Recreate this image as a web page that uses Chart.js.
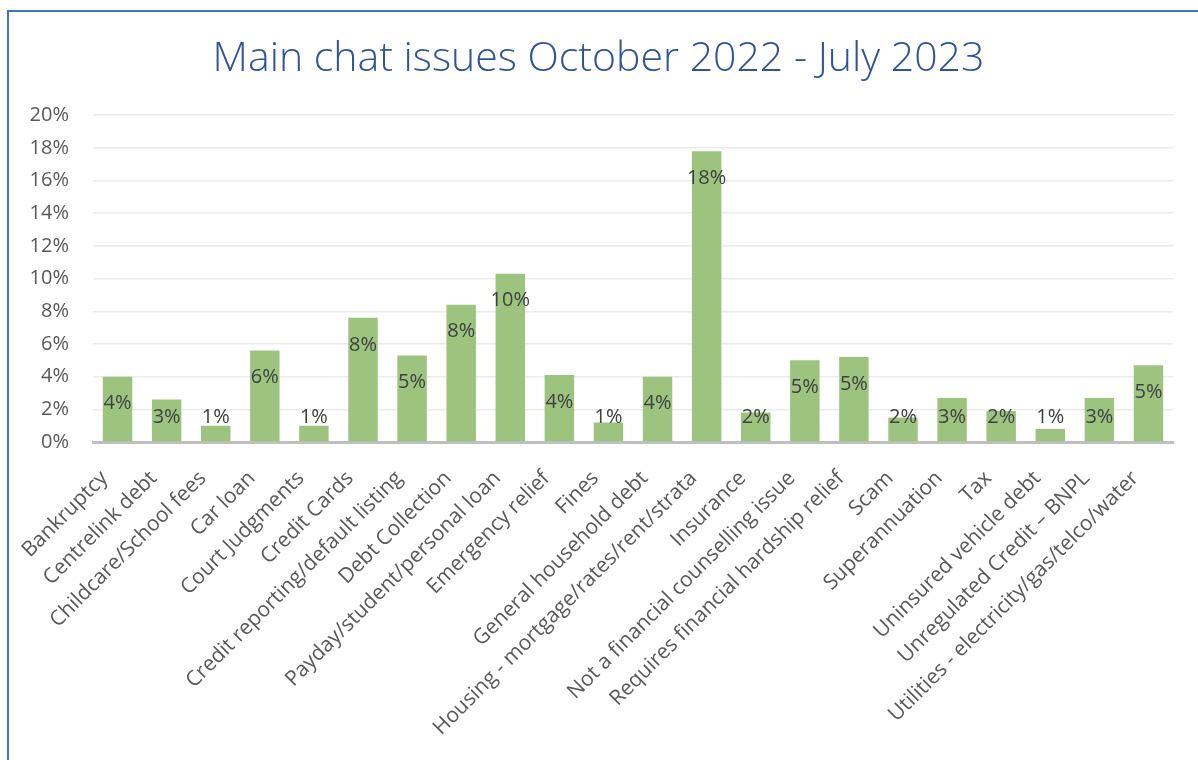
<!DOCTYPE html>
<html>
<head>
<meta charset="utf-8">
<script src="https://cdn.jsdelivr.net/npm/chart.js@4.4.0/dist/chart.umd.min.js"></script>
<style>
  html, body { margin: 0; padding: 0; background: #fff; overflow: hidden; }
  #frame {
    position: absolute; left: 7px; top: 10px; width: 1220px; height: 780px;
    border-left: 2px solid #4472C4; border-top: 2px solid #4472C4;
  }
  #chartCanvas { position: absolute; left: 0; top: 0; }
</style>
</head>
<body>
<div id="frame"></div>
<canvas id="chartCanvas" width="1198" height="760"></canvas>
<script>
const TITLE = "Main chat issues October 2022 - July 2023";

const categories = [
  "Bankruptcy",
  "Centrelink debt",
  "Childcare/School fees",
  "Car loan",
  "Court Judgments",
  "Credit Cards",
  "Credit reporting/default listing",
  "Debt Collection",
  "Payday/student/personal loan",
  "Emergency relief",
  "Fines",
  "General household debt",
  "Housing - mortgage/rates/rent/strata",
  "Insurance",
  "Not a financial counselling issue",
  "Requires financial hardship relief",
  "Scam",
  "Superannuation",
  "Tax",
  "Uninsured vehicle debt",
  "Unregulated Credit \u2013 BNPL",
  "Utilities - electricity/gas/telco/water",
];

// share of chats, in percent
const shares = [
  4.0, 2.6, 1.0, 5.6, 1.0, 7.6, 5.3, 8.4, 10.3, 4.1, 1.2,
  4.0, 17.8, 1.8, 5.0, 5.2, 1.5, 2.7, 1.9, 0.8, 2.7, 4.7,
];

const yMin = 0;
const yMax = 20;
const yStep = 2;

const FONT = "'Open Sans', 'DejaVu Sans', sans-serif";

// value labels inside the bar end, kept clear of the axis
const barLabels = {
  id: "barLabels",
  afterDatasetsDraw(chart) {
    const ctx = chart.ctx;
    const meta = chart.getDatasetMeta(0);
    const base = chart.scales.y.getPixelForValue(0);
    ctx.save();
    ctx.font = "20px " + FONT;
    ctx.fillStyle = "#404040";
    ctx.textAlign = "center";
    ctx.textBaseline = "middle";
    meta.data.forEach((bar, i) => {
      const y = Math.min(bar.y + 27, base - 25);
      ctx.fillText(Math.round(shares[i]) + "%", bar.x, y);
    });
    ctx.restore();
  },
};

document.addEventListener("DOMContentLoaded", drawChart);

function drawChart() {
  const ctx = document.getElementById("chartCanvas").getContext("2d");

  new Chart(ctx, {
    type: "bar",
    data: {
      labels: categories,
      datasets: [
        {
          data: shares,
          backgroundColor: "#9cc47f",
          barPercentage: 0.6,
          categoryPercentage: 1,
        },
      ],
    },
    options: {
      responsive: false,
      animation: false,
      layout: { padding: { left: 24, right: 25, top: 0, bottom: 0 } },
      plugins: {
        legend: { display: false },
        tooltip: { enabled: false },
        title: {
          display: true,
          text: TITLE,
          color: "#2F5597",
          font: { family: FONT, size: 41, weight: "300", lineHeight: 1.2 },
          padding: { top: 35, bottom: 31 },
        },
      },
      scales: {
        x: {
          grid: { display: false, drawTicks: false },
          border: { color: "#bfbfbf", width: 3 },
          ticks: {
            color: "#595959",
            font: { family: FONT, size: 21 },
            minRotation: 45,
            maxRotation: 45,
            autoSkip: false,
            padding: 24,
            labelOffset: -13,
          },
          afterFit(scale) {
            scale.height = 318;
          },
        },
        y: {
          min: yMin,
          max: yMax,
          grid: { color: "#ebebeb", lineWidth: 1.5, drawTicks: false },
          border: { display: false },
          ticks: {
            stepSize: yStep,
            color: "#595959",
            font: { family: FONT, size: 20 },
            padding: 24,
            callback: v => v + "%",
          },
          afterFit(scale) {
            scale.width = 69;
          },
        },
      },
    },
    plugins: [barLabels],
  });
}
</script>
</body>
</html>
